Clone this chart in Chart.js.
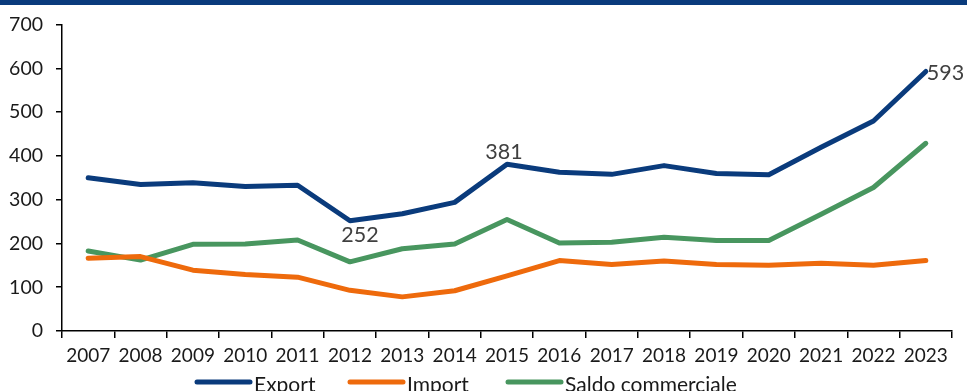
<!DOCTYPE html>
<html>
<head>
<meta charset="utf-8">
<script src="https://cdn.jsdelivr.net/npm/chart.js@4"></script>
<style>
  html, body { margin: 0; padding: 0; background: #fff; }
  #wrap { width: 967px; height: 391px; position: relative; }
</style>
</head>
<body>
<div id="wrap"><canvas id="c"></canvas></div>
<script>
// Categories and series (valori in milioni)
const years = ['2007','2008','2009','2010','2011','2012','2013','2014','2015','2016','2017','2018','2019','2020','2021','2022','2023'];
const exportVals = [350, 335, 339, 330, 333, 252, 268, 294, 381, 363, 358, 378, 360, 357, 420, 480, 593];
const importVals = [166, 170, 139, 129, 123, 93, 78, 92, 126, 161, 152, 160, 152, 150, 155, 150, 161];
const saldoVals  = [183, 162, 198, 199, 208, 158, 188, 199, 255, 201, 203, 214, 207, 207, 267, 328, 429];
const yTicks = [0, 100, 200, 300, 400, 500, 600, 700];
// Export values shown as labels on the line
const labelledYears = ['2012', '2015', '2023'];
const labelSides = ['below', 'above', 'right'];

const FONT = 'Lato, "DejaVu Sans", sans-serif';

const topBar = {
  id: 'topBar',
  beforeDraw(chart) {
    const ctx = chart.ctx;
    ctx.save();
    ctx.fillStyle = '#0A3B7C';
    ctx.fillRect(0, 0, chart.width, 5);
    ctx.restore();
  }
};

const valueLabels = {
  id: 'valueLabels',
  afterDatasetsDraw(chart) {
    const ctx = chart.ctx;
    const meta = chart.getDatasetMeta(0);
    ctx.save();
    ctx.font = '21.5px ' + FONT;
    ctx.fillStyle = '#404040';
    labelledYears.forEach((yr, k) => {
      const i = years.indexOf(yr);
      const pt = meta.data[i];
      const txt = String(exportVals[i]);
      const side = labelSides[k];
      if (side === 'below') {
        ctx.textAlign = 'center'; ctx.textBaseline = 'top';
        ctx.fillText(txt, pt.x + 10, pt.y + 4);
      } else if (side === 'above') {
        ctx.textAlign = 'center'; ctx.textBaseline = 'bottom';
        ctx.fillText(txt, pt.x - 3, pt.y - 1);
      } else {
        ctx.textAlign = 'left'; ctx.textBaseline = 'middle';
        ctx.fillText(txt, pt.x + 1, pt.y + 2);
      }
    });
    ctx.restore();
  }
};

const bottomLegend = {
  id: 'bottomLegend',
  afterDraw(chart) {
    const ctx = chart.ctx;
    const starts = [197, 350, 508];
    ctx.save();
    ctx.font = '21px ' + FONT;
    ctx.textAlign = 'left';
    ctx.textBaseline = 'middle';
    chart.data.datasets.forEach((ds, i) => {
      const x = starts[i];
      const y = 382;
      ctx.strokeStyle = ds.borderColor;
      ctx.lineWidth = 5;
      ctx.lineCap = 'round';
      ctx.beginPath();
      ctx.moveTo(x, y);
      ctx.lineTo(x + 53, y);
      ctx.stroke();
      ctx.fillStyle = '#1a1a1a';
      ctx.fillText(ds.label, x + 57, y + 3);
    });
    ctx.restore();
  }
};

const lineStyle = {
  borderWidth: 5,
  pointRadius: 0,
  pointHoverRadius: 0,
  tension: 0,
  borderCapStyle: 'round',
  borderJoinStyle: 'round',
  fill: false
};

new Chart(document.getElementById('c'), {
  type: 'line',
  data: {
    labels: years,
    datasets: [
      Object.assign({ label: 'Export', data: exportVals, borderColor: '#0A3B7C' }, lineStyle),
      Object.assign({ label: 'Import', data: importVals, borderColor: '#EE6A0C' }, lineStyle),
      Object.assign({ label: 'Saldo commerciale', data: saldoVals, borderColor: '#48965F' }, lineStyle)
    ]
  },
  options: {
    responsive: true,
    maintainAspectRatio: false,
    animation: false,
    events: [],
    layout: { padding: { top: 23, right: 15, left: 0, bottom: 0 } },
    plugins: {
      legend: { display: false },
      tooltip: { enabled: false }
    },
    scales: {
      x: {
        offset: true,
        grid: { display: true, drawOnChartArea: false, drawTicks: true, offset: true, tickLength: 7, color: '#000', lineWidth: 1.5 },
        border: { display: true, color: '#000', width: 1.5 },
        ticks: { color: '#1a1a1a', font: { family: FONT, size: 19 }, padding: 6, maxRotation: 0, autoSkip: false },
        afterFit(scale) { scale.height = 60; }
      },
      y: {
        min: 0,
        max: 700,
        afterBuildTicks(scale) { scale.ticks = yTicks.map(v => ({ value: v })); },
        grid: { display: true, drawOnChartArea: false, drawTicks: true, tickLength: 6, color: '#000', lineWidth: 1.5 },
        border: { display: true, color: '#000', width: 1.5 },
        ticks: { color: '#1a1a1a', font: { family: FONT, size: 19.5 }, padding: 13 },
        afterFit(scale) { scale.width = 62; }
      }
    }
  },
  plugins: [topBar, valueLabels, bottomLegend]
});
</script>
</body>
</html>
